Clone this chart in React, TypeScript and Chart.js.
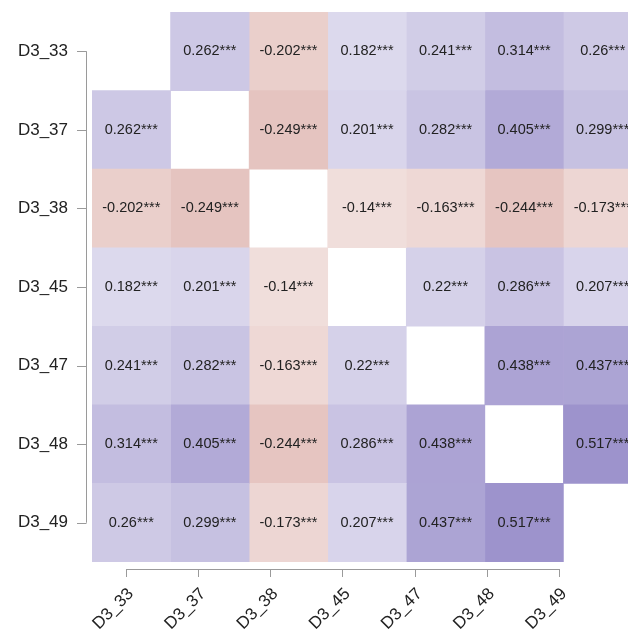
import React, { useEffect, useRef } from "react";
import { Chart, registerables } from "chart.js";

Chart.register(...registerables);

const labels = ["D3_33", "D3_37", "D3_38", "D3_45", "D3_47", "D3_48", "D3_49"];

const row_D3_33 = [null, 0.262, -0.202, 0.182, 0.241, 0.314, 0.26];
const row_D3_37 = [0.262, null, -0.249, 0.201, 0.282, 0.405, 0.299];
const row_D3_38 = [-0.202, -0.249, null, -0.14, -0.163, -0.244, -0.173];
const row_D3_45 = [0.182, 0.201, -0.14, null, 0.22, 0.286, 0.207];
const row_D3_47 = [0.241, 0.282, -0.163, 0.22, null, 0.438, 0.437];
const row_D3_48 = [0.314, 0.405, -0.244, 0.286, 0.438, null, 0.517];
const row_D3_49 = [0.26, 0.299, -0.173, 0.207, 0.437, 0.517, null];

const significance = "***";

const matrix: (number | null)[][] = [
  row_D3_33,
  row_D3_37,
  row_D3_38,
  row_D3_45,
  row_D3_47,
  row_D3_48,
  row_D3_49,
];

const POS = [65, 46, 156];
const NEG = [151, 18, 0];

function colorFor(v: number | null): string {
  if (v === null) return "rgba(0,0,0,0)";
  const t = Math.min(1, Math.abs(v));
  const c = v >= 0 ? POS : NEG;
  const r = Math.round(255 - t * (255 - c[0]));
  const g = Math.round(255 - t * (255 - c[1]));
  const b = Math.round(255 - t * (255 - c[2]));
  return `rgb(${r},${g},${b})`;
}

const FONT = "'Liberation Sans', Arial, Helvetica, sans-serif";

const cellTextPlugin = {
  id: "cellText",
  afterDatasetsDraw(chart: any) {
    const ctx = chart.ctx;
    ctx.save();
    ctx.beginPath();
    ctx.rect(chart.chartArea.left, chart.chartArea.top, chart.chartArea.right - chart.chartArea.left, chart.chartArea.bottom - chart.chartArea.top);
    ctx.clip();
    ctx.font = `14.5px ${FONT}`;
    ctx.fillStyle = "#222222";
    ctx.textAlign = "center";
    ctx.textBaseline = "middle";
    chart.data.datasets.forEach((ds: any, j: number) => {
      const meta = chart.getDatasetMeta(j);
      meta.data.forEach((el: any, i: number) => {
        const v = matrix[i][j];
        if (v === null) return;
        const p = el.getCenterPoint();
        ctx.fillText(`${v}${significance}`, p.x, p.y);
      });
    });
    ctx.restore();
  },
};

const axisLinesPlugin = {
  id: "axisLines",
  afterDraw(chart: any) {
    const ctx = chart.ctx;
    const y = chart.scales.y;
    const xl = chart.scales.xl;
    const left = chart.chartArea.left - 6;
    const bottom = chart.chartArea.bottom + 7;
    ctx.save();
    ctx.strokeStyle = "#9a9a9a";
    ctx.lineWidth = 1;
    ctx.beginPath();
    const y0 = y.getPixelForValue(0);
    const y6 = y.getPixelForValue(labels.length - 1);
    ctx.moveTo(left + 0.5, y0);
    ctx.lineTo(left + 0.5, y6);
    for (let i = 0; i < labels.length; i++) {
      const py = Math.round(y.getPixelForValue(i)) + 0.5;
      ctx.moveTo(left - 9, py);
      ctx.lineTo(left + 0.5, py);
    }
    const x0 = xl.getPixelForValue(0);
    const x6 = xl.getPixelForValue(labels.length - 1);
    ctx.moveTo(x0, bottom + 0.5);
    ctx.lineTo(x6, bottom + 0.5);
    for (let i = 0; i < labels.length; i++) {
      const px = Math.round(xl.getPixelForValue(i)) + 0.5;
      ctx.moveTo(px, bottom);
      ctx.lineTo(px, bottom + 8);
    }
    ctx.stroke();
    ctx.restore();
  },
};

export default function App() {
  const ref = useRef<HTMLCanvasElement | null>(null);

  useEffect(() => {
    document.body.style.margin = "0";
    document.body.style.overflow = "hidden";
    const canvas = ref.current;
    if (!canvas) return;

    const datasets = labels.map((_, j) => ({
      label: labels[j],
      data: matrix.map((row) => (row[j] === null ? null : [j - 0.5, j + 0.5])),
      backgroundColor: matrix.map((row) => colorFor(row[j])),
      borderWidth: 0,
      barPercentage: 1,
      categoryPercentage: 1,
      grouped: false,
      xAxisID: "x",
      yAxisID: "y",
    }));

    const chart = new Chart(canvas, {
      type: "bar",
      data: { labels, datasets: datasets as any },
      options: {
        indexAxis: "y",
        animation: false,
        responsive: false,
        devicePixelRatio: 1,
        layout: { padding: { top: 12, left: 0, right: 0, bottom: 0 } },
        plugins: {
          legend: { display: false },
          tooltip: { enabled: false },
        },
        scales: {
          x: {
            type: "linear",
            display: false,
            min: -0.5,
            max: 6.322,
          },
          xl: {
            type: "linear",
            position: "bottom",
            min: -0.471,
            max: 6.956,
            grid: { display: true, drawOnChartArea: false, drawTicks: true, tickLength: 22, color: "rgba(0,0,0,0)" },
            border: { display: false },
            afterBuildTicks: (s: any) => {
              s.ticks = labels.map((_, i) => ({ value: i }));
            },
            afterFit: (s: any) => {
              s.height = 69;
            },
            ticks: {
              autoSkip: false,
              minRotation: 45,
              maxRotation: 45,
              padding: 0,
              labelOffset: 5,
              color: "#222222",
              font: { family: FONT, size: 17 },
              callback: (v: any) => labels[v] ?? "",
            },
          },
          y: {
            type: "category",
            offset: true,
            grid: { display: true, drawOnChartArea: false, drawTicks: true, tickLength: 24, color: "rgba(0,0,0,0)" },
            border: { display: false },
            afterFit: (s: any) => {
              s.width = 92;
            },
            ticks: {
              padding: 0,
              color: "#222222",
              font: { family: FONT, size: 17 },
            },
          },
        },
      },
      plugins: [cellTextPlugin, axisLinesPlugin],
    });

    return () => chart.destroy();
  }, []);

  return <canvas ref={ref} width={628} height={631} style={{ display: "block" }} />;
}
